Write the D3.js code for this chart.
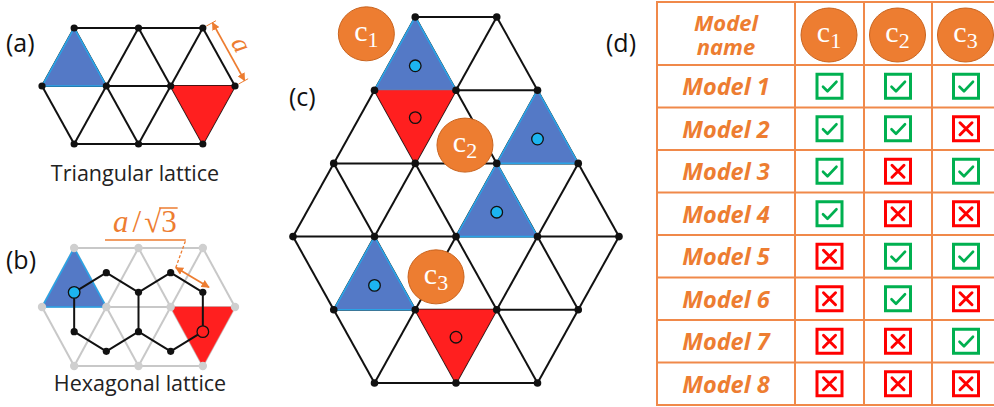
<!DOCTYPE html>
<html>
<head>
<meta charset="utf-8">
<script src="https://cdn.jsdelivr.net/npm/d3@7"></script>
<style>
  html, body { margin: 0; padding: 0; background: #fff; }
  svg { display: block; }
</style>
</head>
<body>
<svg id="fig" width="994" height="407"></svg>
<script>
// ---- lattice data (u = half-step column, r = row) ----
const latticeAB = [[1,0],[3,0],[5,0],[0,1],[2,1],[4,1],[6,1],[1,2],[3,2],[5,2]];
const latticeC = [
  [3,0],[5,0],
  [2,1],[4,1],[6,1],
  [1,2],[3,2],[5,2],[7,2],
  [0,3],[2,3],[4,3],[6,3],[8,3],
  [1,4],[3,4],[5,4],[7,4],
  [2,5],[4,5],[6,5]
];
// up / down triangles, given by their three vertices
const blueTrisAB = [[[1,0],[0,1],[2,1]]];
const redTrisAB  = [[[4,1],[6,1],[5,2]]];
const blueTrisC = [
  [[3,0],[2,1],[4,1]],
  [[6,1],[5,2],[7,2]],
  [[5,2],[4,3],[6,3]],
  [[2,3],[1,4],[3,4]]
];
const redTrisC = [
  [[2,1],[4,1],[3,2]],
  [[3,4],[5,4],[4,5]]
];
// honeycomb sites (u, row in thirds)
const hexSites = [[2,1],[3,2],[4,1],[5,2],[5,4],[4,5],[3,4],[2,5],[1,4],[1,2]];
const hexBlueSite = [1,2];
const hexRedSite  = [5,4];
// orange site labels in panel (c): [u, r, index]
const cLabels = [[1.8,0.23,"1"],[4.22,1.75,"2"],[3.51,3.55,"3"]];

// ---- table data ----
const models = ["Model 1","Model 2","Model 3","Model 4","Model 5","Model 6","Model 7","Model 8"];
const columns = ["1","2","3"];
const hasC1 = [1,1,1,1,0,0,0,0];
const hasC2 = [1,1,0,0,1,1,0,0];
const hasC3 = [1,0,1,0,1,0,1,0];

// ---- styles ----
const BLUE = "#5479c6", BLUE_EDGE = "#2aa3e6", RED = "#ff1f1f";
const CYAN = "#1cb4f0", ORANGE = "#ed7d31", ORANGE_LINE = "#f0894a";
const GREEN = "#00b050", XRED = "#ff0000";
const LABEL_FONT = "'Open Sans', Lato, sans-serif";
const MATH_FONT = "'Liberation Serif', 'DejaVu Serif', serif";

const svg = d3.select("#fig");
const defs = svg.append("defs");
defs.append("marker").attr("id","arr").attr("viewBox","0 0 10 10")
  .attr("refX",9).attr("refY",5).attr("markerWidth",4.5).attr("markerHeight",4.5)
  .attr("orient","auto-start-reverse")
  .append("path").attr("d","M0,0 L10,5 L0,10 z").attr("fill",ORANGE);

function edgesOf(nodes) {
  const out = [];
  for (let i = 0; i < nodes.length; i++)
    for (let j = i + 1; j < nodes.length; j++) {
      const du = Math.abs(nodes[i][0] - nodes[j][0]);
      const dr = Math.abs(nodes[i][1] - nodes[j][1]);
      if ((dr === 0 && du === 2) || (dr === 1 && du === 1)) out.push([nodes[i], nodes[j]]);
    }
  return out;
}
function hexEdges(sites) {
  const out = [];
  for (let i = 0; i < sites.length; i++)
    for (let j = i + 1; j < sites.length; j++) {
      const du = Math.abs(sites[i][0] - sites[j][0]);
      const dv = Math.abs(sites[i][1] - sites[j][1]);
      if ((du === 1 && dv === 1) || (du === 0 && dv === 2)) out.push([sites[i], sites[j]]);
    }
  return out;
}

function drawLattice(g, nodes, x, y, opt) {
  g.append("g").selectAll("line").data(edgesOf(nodes)).join("line")
    .attr("x1", d => x(d[0][0])).attr("y1", d => y(d[0][1]))
    .attr("x2", d => x(d[1][0])).attr("y2", d => y(d[1][1]))
    .attr("stroke", opt.line).attr("stroke-width", opt.lw);
}
function drawNodes(g, nodes, x, y, fill, r) {
  g.append("g").selectAll("circle").data(nodes).join("circle")
    .attr("cx", d => x(d[0])).attr("cy", d => y(d[1])).attr("r", r).attr("fill", fill);
}
function drawTris(g, tris, x, y, fill, edge) {
  g.append("g").selectAll("path").data(tris).join("path")
    .attr("d", t => "M" + t.map(p => x(p[0]) + "," + y(p[1])).join("L") + "Z")
    .attr("fill", fill).attr("stroke", edge || fill).attr("stroke-width", edge ? 1.6 : 0.5)
    .attr("stroke-linejoin","miter");
}
function centroid(t) {
  return [d3.mean(t, p => p[0]), d3.mean(t, p => p[1])];
}
function siteDot(g, cx, cy, fill) {
  g.append("circle").attr("cx", cx).attr("cy", cy).attr("r", 5.8)
    .attr("fill", fill).attr("stroke", "#111").attr("stroke-width", 1.3);
}
function panelLabel(text, x, y) {
  svg.append("text").attr("x", x).attr("y", y).text(text)
    .attr("font-family", LABEL_FONT).attr("font-size", 25).attr("fill", "#111");
}
function cBadge(g, cx, cy, idx, rx, ry) {
  g.append("ellipse").attr("cx", cx).attr("cy", cy).attr("rx", rx).attr("ry", ry)
    .attr("fill", ORANGE).attr("stroke", "#c9641f").attr("stroke-width", 1);
  const t = g.append("text").attr("x", cx).attr("y", cy + 7).attr("text-anchor", "middle")
    .attr("fill", "#fff").attr("font-family", MATH_FONT);
  t.append("tspan").attr("font-size", 30).text("c");
  t.append("tspan").attr("font-size", 22).attr("dy", 6).text(idx);
}

// ================= (a) triangular lattice =================
const ax = d3.scaleLinear().domain([0, 6]).range([42, 235]);
const ay = d3.scaleLinear().domain([0, 2]).range([28, 144]);
const gA = svg.append("g");
drawLattice(gA, latticeAB, ax, ay, {line: "#111", lw: 2});
drawTris(gA, blueTrisAB, ax, ay, BLUE, BLUE_EDGE);
drawTris(gA, redTrisAB, ax, ay, RED);
drawNodes(gA, latticeAB, ax, ay, "#111", 3.6);
panelLabel("(a)", 6, 52);
gA.append("text").attr("x", 135).attr("y", 181).attr("text-anchor", "middle")
  .attr("font-family", LABEL_FONT).attr("font-size", 21.5).attr("fill", "#222").text("Triangular lattice");

// lattice-constant dimension along the upper-right edge
{
  const p0 = [ax(5), ay(0)], p1 = [ax(6), ay(1)];
  const dx = p1[0] - p0[0], dy = p1[1] - p0[1], L = Math.hypot(dx, dy);
  const nx = dy / L, ny = -dx / L, off = 11;
  gA.append("line").attr("x1", p0[0] + nx * off).attr("y1", p0[1] + ny * off)
    .attr("x2", p1[0] + nx * off).attr("y2", p1[1] + ny * off)
    .attr("stroke", ORANGE).attr("stroke-width", 1.8)
    .attr("marker-start", "url(#arr)").attr("marker-end", "url(#arr)");
  [p0, p1].forEach(p => gA.append("line")
    .attr("x1", p[0] + nx * 4).attr("y1", p[1] + ny * 4)
    .attr("x2", p[0] + nx * 15).attr("y2", p[1] + ny * 15)
    .attr("stroke", ORANGE).attr("stroke-width", 1));
  const mx = (p0[0] + p1[0]) / 2 + nx * 24, my = (p0[1] + p1[1]) / 2 + ny * 24;
  gA.append("text").attr("transform", `translate(${mx},${my}) rotate(${Math.atan2(dy, dx) * 180 / Math.PI})`)
    .attr("text-anchor", "middle").attr("dy", 7)
    .attr("font-family", MATH_FONT).attr("font-style", "italic").attr("font-size", 27)
    .attr("fill", ORANGE).text("a");
}

// ================= (b) hexagonal lattice =================
const bx = ax;
const by = d3.scaleLinear().domain([0, 2]).range([248, 366]);
const hexShift = 5;
const hy = v => by(v / 3) + hexShift;
const gB = svg.append("g");
drawLattice(gB, latticeAB, bx, by, {line: "#c8c8c8", lw: 2});
drawTris(gB, blueTrisAB, bx, by, BLUE, BLUE_EDGE);
drawTris(gB, redTrisAB, bx, by, RED);
drawNodes(gB, latticeAB, bx, by, "#cfcfcf", 4.2);
gB.append("g").selectAll("line").data(hexEdges(hexSites)).join("line")
  .attr("x1", d => bx(d[0][0])).attr("y1", d => hy(d[0][1]))
  .attr("x2", d => bx(d[1][0])).attr("y2", d => hy(d[1][1]))
  .attr("stroke", "#111").attr("stroke-width", 2);
drawNodes(gB, hexSites, bx, hy, "#111", 3.6);
siteDot(gB, bx(hexBlueSite[0]), hy(hexBlueSite[1]), CYAN);
siteDot(gB, bx(hexRedSite[0]), hy(hexRedSite[1]), RED);
panelLabel("(b)", 6, 269);
gB.append("text").attr("x", 140).attr("y", 391).attr("text-anchor", "middle")
  .attr("font-family", LABEL_FONT).attr("font-size", 21.5).attr("fill", "#222").text("Hexagonal lattice");

// bond-length dimension a/√3
{
  const p0 = [bx(4), hy(1)], p1 = [bx(5), hy(2)];
  const dx = p1[0] - p0[0], dy = p1[1] - p0[1], L = Math.hypot(dx, dy);
  const nx = dy / L, ny = -dx / L, off = 6;
  const s = [p0[0] + nx * off + 2, p0[1] + ny * off], e = [p1[0] + nx * off + 3, p1[1] + ny * off];
  gB.append("line").attr("x1", s[0]).attr("y1", s[1]).attr("x2", e[0]).attr("y2", e[1])
    .attr("stroke", ORANGE).attr("stroke-width", 1.8)
    .attr("marker-start", "url(#arr)").attr("marker-end", "url(#arr)");
  const lead = [s[0] + 10, 240];
  gB.append("line").attr("x1", s[0]).attr("y1", s[1]).attr("x2", lead[0]).attr("y2", lead[1])
    .attr("stroke", ORANGE).attr("stroke-width", 1.3).attr("stroke-dasharray", "3,2");
  gB.append("line").attr("x1", lead[0]).attr("y1", lead[1]).attr("x2", 105).attr("y2", lead[1])
    .attr("stroke", ORANGE).attr("stroke-width", 1.5);
  const lab = gB.append("text").attr("x", 113).attr("y", 232)
    .attr("font-family", MATH_FONT).attr("font-size", 31).attr("fill", ORANGE);
  lab.append("tspan").attr("font-style", "italic").text("a");
  lab.append("tspan").attr("dx", 4).text("/");
  lab.append("tspan").attr("dx", 3).text("√3");
  const node = lab.node();
  const n = node.getNumberOfChars();
  const s3 = node.getStartPositionOfChar(n - 1), e3 = node.getEndPositionOfChar(n - 1);
  gB.append("line").attr("x1", s3.x - 2).attr("x2", e3.x + 1).attr("y1", 208).attr("y2", 208)
    .attr("stroke", ORANGE).attr("stroke-width", 1.5);
}

// ================= (c) large triangular patch =================
const cx = d3.scaleLinear().domain([0, 8]).range([293, 619]);
const cy = d3.scaleLinear().domain([0, 5]).range([17, 383]);
const gC = svg.append("g");
drawLattice(gC, latticeC, cx, cy, {line: "#111", lw: 2});
drawTris(gC, blueTrisC, cx, cy, BLUE, BLUE_EDGE);
drawTris(gC, redTrisC, cx, cy, RED);
drawNodes(gC, latticeC, cx, cy, "#111", 3.8);
blueTrisC.forEach(t => { const c = centroid(t); siteDot(gC, cx(c[0]), cy(c[1]), CYAN); });
redTrisC.forEach(t => { const c = centroid(t); siteDot(gC, cx(c[0]), cy(c[1]) + 3, RED); });
cLabels.forEach(d => cBadge(gC, cx(d[0]), cy(d[1]), d[2], 28, 27));
panelLabel("(c)", 289, 106);

// ================= (d) model table =================
panelLabel("(d)", 606, 52);
const colX = d3.scaleOrdinal().domain(["name", ...columns]).range([657, 795, 864, 932]);
const colW = {"name": 138, "1": 69, "2": 68, "3": 68};
const rowY = d3.scaleBand().domain(models).range([65, 405]);
const gD = svg.append("g");
const flags = [hasC1, hasC2, hasC3];

// grid
const vLines = [657, 795, 864, 932];
gD.selectAll("line.v").data(vLines).join("line").attr("class", "v")
  .attr("x1", d => d).attr("x2", d => d).attr("y1", 2).attr("y2", 405)
  .attr("stroke", ORANGE_LINE).attr("stroke-width", 2);
const hLines = [2, ...models.map(m => rowY(m)), rowY.range()[1]];
gD.selectAll("line.h").data(hLines).join("line").attr("class", "h")
  .attr("x1", 656).attr("x2", 1000).attr("y1", d => d).attr("y2", d => d)
  .attr("stroke", ORANGE_LINE).attr("stroke-width", 2);

// header
const hdr = gD.append("text").attr("text-anchor", "middle").attr("fill", ORANGE)
  .attr("font-family", LABEL_FONT).attr("font-weight", "bold").attr("font-style", "italic").attr("font-size", 22);
hdr.append("tspan").attr("x", 726).attr("y", 31).text("Model");
hdr.append("tspan").attr("x", 726).attr("y", 55).text("name");
columns.forEach(c => cBadge(gD, colX(c) + colW[c] / 2 - 0.5, 35, c, 28, 27));

// rows
gD.selectAll("text.model").data(models).join("text").attr("class", "model")
  .attr("x", 726).attr("y", d => rowY(d) + rowY.bandwidth() / 2 + 9)
  .attr("text-anchor", "middle").attr("fill", ORANGE)
  .attr("font-family", LABEL_FONT).attr("font-weight", "bold").attr("font-style", "italic").attr("font-size", 23.5)
  .text(d => d);

const cells = [];
models.forEach((m, i) => columns.forEach((c, j) => cells.push({m, c, ok: flags[j][i]})));
const cell = gD.selectAll("g.cell").data(cells).join("g").attr("class", "cell")
  .attr("transform", d => `translate(${colX(d.c) + colW[d.c] / 2},${rowY(d.m) + rowY.bandwidth() / 2})`);
cell.append("rect").attr("x", -12.5).attr("y", -12).attr("width", 25).attr("height", 24)
  .attr("fill", "#fff").attr("stroke", d => d.ok ? GREEN : XRED).attr("stroke-width", 3);
cell.append("path")
  .attr("d", d => d.ok ? "M-6.5,0.5 L-2,5 L7,-4.5" : "M-6,-6 L6,6 M6,-6 L-6,6")
  .attr("fill", "none").attr("stroke", d => d.ok ? GREEN : XRED)
  .attr("stroke-width", d => d.ok ? 2.6 : 3).attr("stroke-linecap", "round").attr("stroke-linejoin", "round");
</script>
</body>
</html>
